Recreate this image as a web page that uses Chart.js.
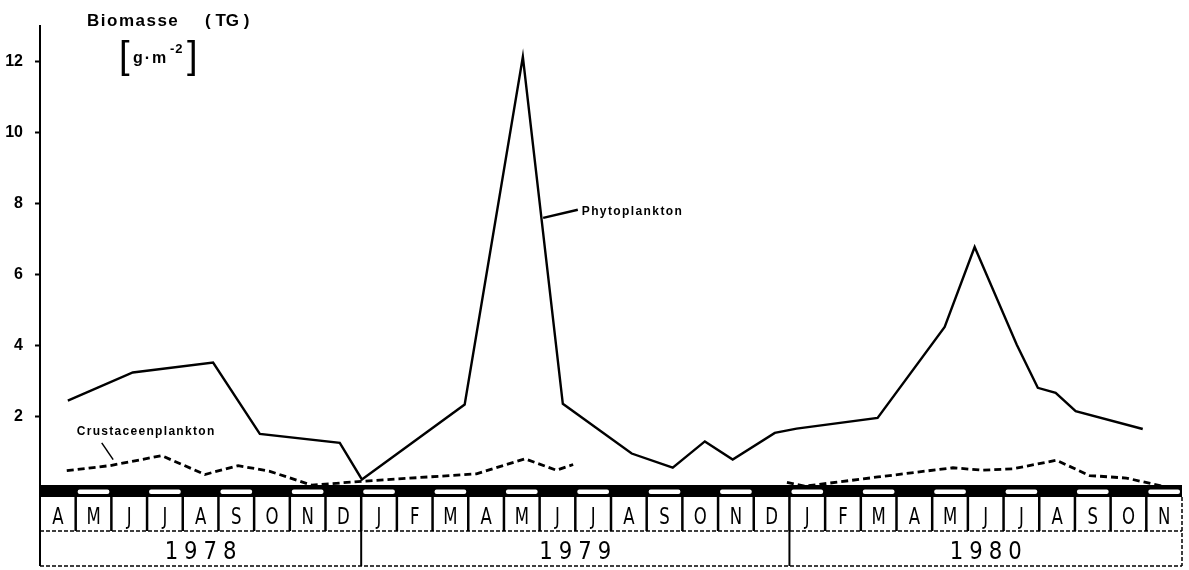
<!DOCTYPE html>
<html>
<head>
<meta charset="utf-8">
<title>Biomasse (TG)</title>
<script src="https://cdn.jsdelivr.net/npm/chart.js@4.4.0/dist/chart.umd.min.js"></script>
<style>
  html, body { margin: 0; padding: 0; background: #fff; }
  #wrap { width: 1189px; height: 570px; }
</style>
</head>
<body>
<div id="wrap"><canvas id="chart"></canvas></div>
<script>
// x runs in months from 1 April 1978 (0) to the end of November 1980 (32)
const monthLabels = ['A', 'M', 'J', 'J', 'A', 'S', 'O', 'N', 'D',
  'J', 'F', 'M', 'A', 'M', 'J', 'J', 'A', 'S', 'O', 'N', 'D',
  'J', 'F', 'M', 'A', 'M', 'J', 'J', 'A', 'S', 'O', 'N'];
const yearLabels = ['1978', '1979', '1980'];
const yearBounds = [0, 9, 21, 32];
const yTicks = [2, 4, 6, 8, 10, 12];

// Phytoplankton biomass, g TG per m2
const phytoMonths = [0.78, 2.6, 4.85, 6.16, 8.4, 9.02, 11.9, 13.53, 14.65, 16.58, 17.73, 18.63,
  19.41, 20.59, 21.2, 23.47, 25.35, 26.19, 27.37, 27.96, 28.46, 29.02, 30.9];
const phytoValues = [2.46, 3.25, 3.53, 1.52, 1.27, 0.24, 2.35, 12.13, 2.37, 0.97, 0.57, 1.31,
  0.80, 1.55, 1.67, 1.97, 4.53, 6.78, 4.03, 2.82, 2.68, 2.16, 1.66];

// Crustaceenplankton biomass (null = gap, no samples)
const crustMonths = [0.75, 1.96, 3.41, 4.62, 5.55, 6.44, 7.61, 9.05, 12.23, 13.59, 14.47, 14.94,
  17.5, 20.93, 21.43, 23.48, 25.58, 26.42, 27.26, 28.48, 29.41, 30.44, 31.46];
const crustValues = [0.49, 0.63, 0.91, 0.38, 0.63, 0.47, 0.08, 0.19, 0.40, 0.82, 0.50, 0.66,
  null, 0.16, 0.05, 0.31, 0.57, 0.50, 0.54, 0.78, 0.35, 0.28, 0.05];

const toPoints = (xs, ys) => xs.map((m, i) => ({ x: m, y: ys[i] }));

// month/year strip under the plot, drawn off the x scale
const calendarStrip = {
  id: 'calendarStrip',
  afterDatasetsDraw(chart) {
    const { ctx, scales: { x, y } } = chart;
    const base = y.getPixelForValue(0);
    const bandTop = base - 3, bandBot = base + 9;
    const rowBot = base + 43, yearBot = base + 78;
    const left = x.getPixelForValue(0), right = x.getPixelForValue(monthLabels.length);

    ctx.save();
    // black band with white dashes every other month
    ctx.fillStyle = '#000';
    ctx.fillRect(left, bandTop, right - left, bandBot - bandTop);
    ctx.fillStyle = '#fff';
    monthLabels.forEach((_, i) => {
      if (i % 2 === 1) {
        const a = x.getPixelForValue(i), b = x.getPixelForValue(i + 1);
        ctx.beginPath();
        ctx.roundRect(a + 2, bandTop + 4.5, b - a - 4, 4.5, 2);
        ctx.fill();
      }
    });

    // month cells
    ctx.strokeStyle = '#000';
    ctx.lineWidth = 2.5;
    for (let i = 1; i < monthLabels.length; i++) {
      const px = x.getPixelForValue(i);
      ctx.beginPath();
      ctx.moveTo(px, bandBot);
      ctx.lineTo(px, rowBot);
      ctx.stroke();
    }
    ctx.fillStyle = '#000';
    ctx.font = '23px "DejaVu Sans"';
    ctx.textAlign = 'center';
    ctx.textBaseline = 'alphabetic';
    monthLabels.forEach((m, i) => {
      const cx = x.getPixelForValue(i + 0.5);
      ctx.save();
      ctx.translate(cx, rowBot - 7);
      ctx.scale(0.72, 1);
      ctx.fillText(m, 0, 0);
      ctx.restore();
    });

    // year separators and borders
    ctx.lineWidth = 2;
    yearBounds.slice(1, -1).forEach((b) => {
      const px = x.getPixelForValue(b);
      ctx.beginPath();
      ctx.moveTo(px, rowBot);
      ctx.lineTo(px, yearBot);
      ctx.stroke();
    });
    ctx.beginPath();
    ctx.moveTo(left, bandTop);
    ctx.lineTo(left, yearBot);
    ctx.stroke();

    ctx.lineWidth = 1.5;
    ctx.setLineDash([4, 2]);
    ctx.beginPath();
    ctx.moveTo(left, rowBot);
    ctx.lineTo(right, rowBot);
    ctx.moveTo(left, yearBot);
    ctx.lineTo(right, yearBot);
    ctx.moveTo(right, bandBot);
    ctx.lineTo(right, yearBot);
    ctx.stroke();
    ctx.setLineDash([]);

    ctx.font = '25px "DejaVu Sans"';
    ctx.letterSpacing = '7px';
    yearLabels.forEach((yr, i) => {
      const cx = (x.getPixelForValue(yearBounds[i]) + x.getPixelForValue(yearBounds[i + 1])) / 2;
      ctx.save();
      ctx.translate(cx + 3, yearBot - 7);
      ctx.scale(0.85, 1);
      ctx.fillText(yr, 0, 0);
      ctx.restore();
    });
    ctx.restore();
  }
};

// axis title, unit and series names
const captions = {
  id: 'captions',
  afterDraw(chart) {
    const { ctx, scales: { x, y } } = chart;
    ctx.save();
    ctx.fillStyle = '#000';
    ctx.textAlign = 'left';
    ctx.textBaseline = 'alphabetic';

    ctx.font = 'bold 17px "Liberation Sans"';
    ctx.letterSpacing = '1.5px';
    ctx.fillText('Biomasse', 87, 26);
    ctx.letterSpacing = '0px';
    ctx.fillText('( TG )', 205, 26);

    ctx.font = '38px "Liberation Sans"';
    ctx.fillText('[', 119, 68);
    ctx.fillText(']', 187, 68);
    ctx.font = 'bold 16px "Liberation Sans"';
    ctx.letterSpacing = '2px';
    ctx.fillText('g·m', 133, 63);
    ctx.font = 'bold 13px "Liberation Sans"';
    ctx.letterSpacing = '1px';
    ctx.fillText('-2', 170, 53);

    // Phytoplankton label with leader line
    ctx.font = 'bold 12px "Liberation Sans"';
    ctx.letterSpacing = '1.4px';
    ctx.fillText('Phytoplankton', x.getPixelForValue(15.18), y.getPixelForValue(7.69));
    ctx.lineWidth = 2.5;
    ctx.strokeStyle = '#000';
    ctx.beginPath();
    ctx.moveTo(x.getPixelForValue(14.1), y.getPixelForValue(7.6));
    ctx.lineTo(x.getPixelForValue(15.07), y.getPixelForValue(7.83));
    ctx.stroke();

    // Crustaceenplankton label with leader line
    ctx.letterSpacing = '1.3px';
    ctx.fillText('Crustaceenplankton', x.getPixelForValue(1.03), y.getPixelForValue(1.49));
    ctx.lineWidth = 1.5;
    ctx.beginPath();
    ctx.moveTo(x.getPixelForValue(1.73), y.getPixelForValue(1.27));
    ctx.lineTo(x.getPixelForValue(2.05), y.getPixelForValue(0.8));
    ctx.stroke();
    ctx.restore();
  }
};

new Chart(document.getElementById('chart'), {
  type: 'line',
  data: {
    datasets: [
      {
        label: 'Phytoplankton',
        data: toPoints(phytoMonths, phytoValues),
        borderColor: '#000',
        borderWidth: 2.4,
        pointRadius: 0,
        tension: 0,
        fill: false
      },
      {
        label: 'Crustaceenplankton',
        data: toPoints(crustMonths, crustValues),
        borderColor: '#000',
        borderWidth: 2.8,
        borderDash: [7, 4],
        pointRadius: 0,
        tension: 0,
        spanGaps: false,
        fill: false
      }
    ]
  },
  options: {
    responsive: true,
    maintainAspectRatio: false,
    animation: false,
    layout: { padding: { left: 0, top: 26, right: 7, bottom: 82 } },
    plugins: {
      legend: { display: false },
      tooltip: { enabled: false }
    },
    scales: {
      x: {
        type: 'linear',
        min: 0,
        max: monthLabels.length,
        display: false
      },
      y: {
        min: 0,
        max: 13,
        afterFit(scale) { scale.width = 40; },
        afterBuildTicks(scale) { scale.ticks = yTicks.map((v) => ({ value: v })); },
        grid: {
          drawOnChartArea: false,
          tickLength: 5,
          tickWidth: 2,
          tickColor: '#000'
        },
        border: { display: true, color: '#000', width: 2 },
        ticks: {
          padding: 12,
          color: '#000',
          font: { family: 'Liberation Sans', size: 16, weight: 'bold' }
        }
      }
    }
  },
  plugins: [calendarStrip, captions]
});
</script>
</body>
</html>
